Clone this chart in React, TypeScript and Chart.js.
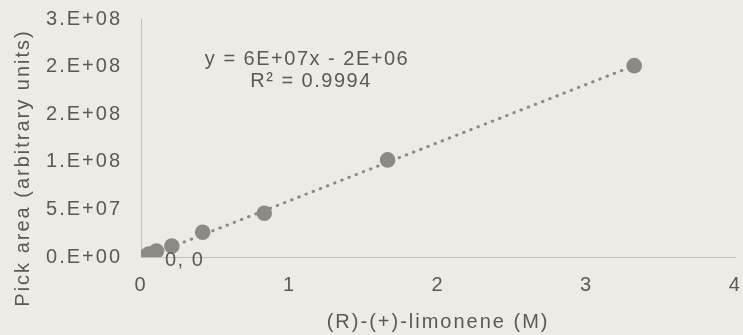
import React, { useEffect, useRef } from 'react';
import { Chart, registerables } from 'chart.js';

Chart.register(...registerables);

// ---- data ----
const concentrations = [0, 0.052, 0.104, 0.2075, 0.415, 0.83, 1.66, 3.32];
const peakAreas = [0, 3.2e6, 6.3e6, 1.16e7, 2.6e7, 4.6e7, 1.02e8, 2.01e8];
const trendX = [0, 3.32];
const trendY = [-2e6, 2.01e8];
const xTickLabels = ['0', '1', '2', '3', '4'];
const yTickLabels = ['0.E+00', '5.E+07', '1.E+08', '2.E+08', '2.E+08', '3.E+08'];
const equationText = 'y = 6E+07x - 2E+06';
const r2Text = 'R² = 0.9994';
const originLabel = '0, 0';
const xTitle = '(R)-(+)-limonene (M)';
const yTitle = 'Pick area (arbitrary units)';

const BG = '#EEEBE4';
const TEXT = '#595959';
const MARK = '#8B8B84';
const AXIS = '#BFBFBF';
const FONT = '"Liberation Sans", Arial, sans-serif';
const SPACING = '2px';
const FS = 20;

const spacingPlugin = {
  id: 'spacing',
  beforeUpdate(chart: any) {
    chart.ctx.letterSpacing = SPACING;
  },
  beforeDraw(chart: any) {
    chart.ctx.letterSpacing = SPACING;
    const { ctx, width, height } = chart;
    ctx.save();
    ctx.fillStyle = BG;
    ctx.fillRect(0, 0, width, height);
    ctx.restore();
  },
};

const textPlugin = {
  id: 'texts',
  afterDraw(chart: any) {
    const { ctx } = chart;
    const xs = chart.scales.x;
    const ys = chart.scales.y;
    ctx.save();
    ctx.letterSpacing = SPACING;
    ctx.fillStyle = TEXT;
    // y-axis title
    ctx.save();
    ctx.translate(23, 168);
    ctx.rotate(-Math.PI / 2);
    ctx.font = `${FS}px ${FONT}`;
    ctx.textAlign = 'center';
    ctx.textBaseline = 'middle';
    ctx.fillText(yTitle, 0, 0);
    ctx.restore();
    // trendline equation
    ctx.letterSpacing = '1.5px';
    ctx.font = `${FS}px ${FONT}`;
    ctx.textAlign = 'center';
    ctx.textBaseline = 'middle';
    ctx.fillText(equationText, 307, 59);
    ctx.fillText(r2Text, 311, 81);
    // data label at origin point
    const px = xs.getPixelForValue(concentrations[0]);
    const py = ys.getPixelForValue(peakAreas[0]);
    ctx.textAlign = 'left';
    ctx.fillText(originLabel, px + 24, py + 3);
    ctx.restore();
  },
};

export default function App() {
  const ref = useRef<HTMLCanvasElement | null>(null);
  useEffect(() => {
    if (!ref.current) return;
    const chart = new Chart(ref.current, {
      type: 'scatter',
      data: {
        datasets: [
          {
            label: 'data',
            data: concentrations.map((x, i) => ({ x, y: peakAreas[i] })),
            backgroundColor: MARK,
            borderColor: MARK,
            borderWidth: 0,
            pointRadius: 7.8,
            pointHoverRadius: 7.8,
            order: 1,
          },
          {
            label: 'trend',
            data: trendX.map((x, i) => ({ x, y: trendY[i] })),
            showLine: true,
            borderColor: MARK,
            borderWidth: 3,
            borderDash: [0.5, 7.2],
            borderCapStyle: 'round',
            pointRadius: 0,
            pointHoverRadius: 0,
            order: 2,
          } as any,
        ],
      },
      options: {
        animation: false,
        responsive: true,
        maintainAspectRatio: false,
        events: [],
        layout: { padding: { top: 19, right: 6, left: 0, bottom: 0 } },
        plugins: {
          legend: { display: false },
          tooltip: { enabled: false },
        },
        scales: {
          x: {
            type: 'linear',
            min: 0,
            max: 4,
            afterFit: (s: any) => {
              s.height = 78;
              s.paddingLeft = 0;
              s.paddingRight = 0;
            },
            ticks: {
              stepSize: 1,
              padding: 16,
              color: TEXT,
              font: { family: FONT, size: FS },
              callback: (_v: any, i: number) => xTickLabels[i],
            },
            grid: { display: true, color: 'transparent', drawTicks: false },
            border: { display: true, color: AXIS, width: 1 },
            title: {
              display: true,
              text: xTitle,
              color: TEXT,
              font: { family: FONT, size: FS },
              padding: { top: 0, bottom: 1 },
            },
          },
          y: {
            type: 'linear',
            min: 0,
            max: 2.5e8,
            afterFit: (s: any) => {
              s.width = 141;
              s.paddingTop = 0;
              s.paddingBottom = 0;
            },
            ticks: {
              stepSize: 5e7,
              padding: 19,
              color: TEXT,
              font: { family: FONT, size: FS },
              callback: (_v: any, i: number) => yTickLabels[i],
            },
            grid: { display: true, color: 'transparent', drawTicks: false },
            border: { display: true, color: AXIS, width: 1 },
          },
        },
      },
      plugins: [spacingPlugin, textPlugin],
    } as any);
    return () => chart.destroy();
  }, []);

  return (
    <div
      style={{
        position: 'absolute',
        left: 0,
        top: 0,
        width: 743,
        height: 335,
        background: BG,
      }}
    >
      <canvas ref={ref} />
    </div>
  );
}
